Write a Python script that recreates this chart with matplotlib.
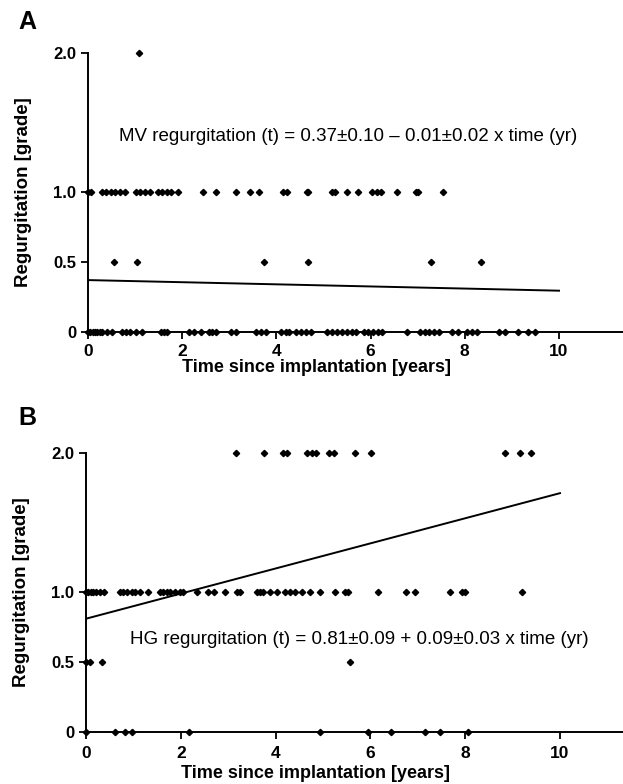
import matplotlib
matplotlib.use("Agg")
import matplotlib.pyplot as plt
import numpy as np

plt.rcParams['font.family'] = ['Liberation Sans', 'DejaVu Sans']

# ---------------- Panel A data (MV regurgitation) ----------------
a_x_g2 = [1.09]
a_x_g1 = [0.0, 0.07, 0.30, 0.39, 0.48, 0.58, 0.68, 0.78, 1.01, 1.10, 1.20, 1.32,
          1.49, 1.58, 1.68, 1.77, 1.92, 2.45, 2.71, 3.14, 3.45, 3.63, 4.14, 4.23,
          4.65, 4.68, 5.17, 5.24, 5.49, 5.74, 6.02, 6.13, 6.23, 6.55, 6.97, 7.01, 7.53]
a_x_g05 = [0.56, 1.03, 3.74, 4.68, 7.28, 8.34]
a_x_g0 = [0.0, 0.05, 0.10, 0.15, 0.20, 0.25, 0.30, 0.41, 0.52, 0.73, 0.80, 0.90,
          1.01, 1.15, 1.54, 1.61, 1.68, 2.14, 2.25, 2.39, 2.57, 2.64, 2.71, 3.03,
          3.14, 3.56, 3.67, 3.77, 4.09, 4.20, 4.27, 4.41, 4.52, 4.62, 4.73, 5.08,
          5.19, 5.29, 5.40, 5.50, 5.60, 5.70, 5.85, 5.95, 6.05, 6.15, 6.25, 6.77,
          7.05, 7.15, 7.25, 7.35, 7.45, 7.72, 7.86, 8.05, 8.15, 8.25, 8.72, 8.85,
          9.14, 9.35, 9.49]
a_intercept, a_slope = 0.37, -0.0076
a_text = "MV regurgitation (t) = 0.37\u00b10.10 \u2013 0.01\u00b10.02 x time (yr)"

# ---------------- Panel B data (HG regurgitation) ----------------
b_x_g2 = [3.16, 3.76, 4.16, 4.25, 4.66, 4.76, 4.85, 5.13, 5.23, 5.68, 6.01,
          8.85, 9.16, 9.39]
b_x_g1 = [0.0, 0.05, 0.10, 0.15, 0.22, 0.30, 0.37, 0.72, 0.79, 0.86, 0.96, 1.03,
          1.14, 1.31, 1.56, 1.63, 1.70, 1.77, 1.88, 1.98, 2.05, 2.34, 2.58, 2.69,
          2.93, 3.18, 3.25, 3.60, 3.67, 3.74, 3.88, 4.02, 4.20, 4.31, 4.41, 4.55,
          4.73, 4.94, 5.25, 5.46, 5.53, 6.17, 6.75, 6.94, 7.68, 7.93, 8.00, 9.19]
b_x_g05 = [0.0, 0.08, 0.33, 5.57]
b_x_g0 = [0.0, 0.62, 0.83, 0.96, 2.17, 4.94, 5.95, 6.44, 7.15, 7.46, 8.06]
b_intercept, b_slope = 0.81, 0.09
b_text = "HG regurgitation (t) = 0.81\u00b10.09 + 0.09\u00b10.03 x time (yr)"

yticks = [0, 0.5, 1.0, 2.0]
ytick_labels = ["0", "0.5", "1.0", "2.0"]
xticks = [0, 2, 4, 6, 8, 10]
xtick_labels = ["0", "2", "4", "6", "8", "10"]

fig = plt.figure(figsize=(6.23, 7.84), dpi=100)

def panel(rect, xmax, groups, intercept, slope, text, text_xy, letter, letter_y,
          xtick_pad, xlabel_y):
    ax = fig.add_axes(rect)
    for yv, xs in groups:
        ax.plot(xs, [yv] * len(xs), linestyle='none', marker='D', markersize=3.2,
                color='black', clip_on=False, zorder=3)
    lx = np.array([0, 10])
    ax.plot(lx, intercept + slope * lx, color='black', linewidth=1.4)
    ax.set_xlim(0, xmax)
    ax.set_ylim(0, 2.0)
    ax.spines['top'].set_visible(False)
    ax.spines['right'].set_visible(False)
    ax.spines['left'].set_linewidth(1.4)
    ax.spines['bottom'].set_linewidth(1.4)
    ax.set_yticks(yticks)
    ax.set_yticklabels(ytick_labels, fontweight='bold', fontsize=12)
    ax.set_xticks(xticks)
    ax.set_xticklabels(xtick_labels, fontweight='bold', fontsize=12.5)
    ax.tick_params(axis='both', direction='out', length=5, width=1.3)
    ax.tick_params(axis='x', pad=xtick_pad)
    ax.tick_params(axis='y', pad=3.5)
    ax.set_xlabel("Time since implantation [years]", fontweight='bold', fontsize=13)
    ax.xaxis.set_label_coords(0.428, xlabel_y, transform=ax.transAxes)
    ax.xaxis.label.set_va('top')
    ax.set_ylabel("Regurgitation [grade]", fontweight='bold', fontsize=13.5)
    ax.yaxis.set_label_coords(-0.104, 0.5)
    ax.text(text_xy[0], text_xy[1], text, transform=ax.transData, fontsize=13.5,
            ha='left', va='center')
    fig.text(18 / 623, letter_y, letter, fontweight='bold', fontsize=18, ha='left', va='top')
    return ax

panel([88 / 623, 1 - 331.7 / 784, 535 / 623, 279 / 784], 535 / 47.1,
      [(2.0, a_x_g2), (1.0, a_x_g1), (0.5, a_x_g05), (0.0, a_x_g0)],
      a_intercept, a_slope, a_text, (0.665, 1.40), "A", 1 - 10 / 784,
      3.5, -0.098)
panel([86 / 623, 1 - 731.7 / 784, 537 / 623, 279 / 784], 537 / 47.4,
      [(2.0, b_x_g2), (1.0, b_x_g1), (0.5, b_x_g05), (0.0, b_x_g0)],
      b_intercept, b_slope, b_text, (0.93, 0.66), "B", 1 - 406 / 784,
      5, -0.118)

fig.savefig("out.png", dpi=100)
